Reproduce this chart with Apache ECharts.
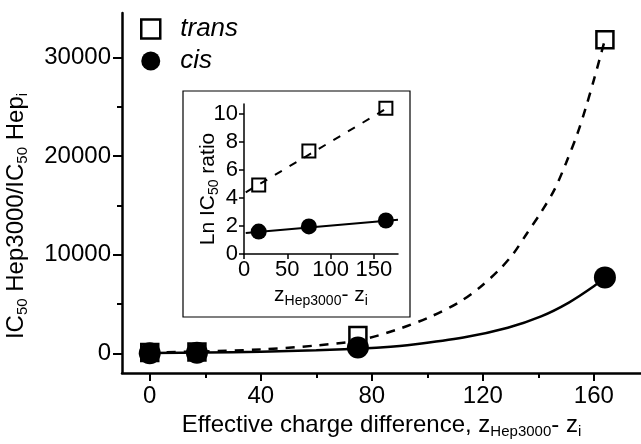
<!DOCTYPE html>
<html>
<head>
<meta charset="utf-8">
<script src="https://cdn.jsdelivr.net/npm/echarts@6/dist/echarts.min.js"></script>
<style>
html, body { margin: 0; padding: 0; background: #fff; }
#chart { width: 641px; height: 444px; }
</style>
</head>
<body>
<div id="chart"></div>
<script>
// main panel: IC50 ratio vs effective charge difference
var xPoints = [0, 17, 75, 164];
var transRatio = [100, 130, 1800, 31800];
var cisRatio = [20, 60, 600, 7700];

// fitted curves
var transFitX = [0, 20, 40, 60, 75, 89, 101, 111, 119, 126, 131, 136, 141, 146, 150, 154, 157, 160, 164];
var transFitY = [100, 200, 400, 800, 1300, 2400, 3700, 5100, 6700, 8500, 10100, 12200, 14300, 16700, 19300, 22200, 24800, 27700, 31800];
var cisFitX = [0, 20, 40, 60, 75, 83, 95, 113, 129, 141, 151, 160, 164];
var cisFitY = [50, 90, 170, 310, 480, 600, 900, 1600, 2600, 3750, 5150, 6800, 7700];

// inset: Ln IC50 ratio
var insetX = [17, 75, 164];
var transLn = [4.93, 7.35, 10.4];
var cisLn = [1.6, 1.97, 2.39];
var transLineX = [2, 168];
var transLineY = [4.4, 10.5];
var cisLineX = [2, 178];
var cisLineY = [1.5, 2.45];

// tick labels
var mainXTicks = [0, 40, 80, 120, 160];
var mainXMinor = [20, 60, 100, 140];
var mainYTicks = [0, 10000, 20000, 30000];
var mainYMinor = [5000, 15000, 25000];
var insetXTicks = [0, 50, 100, 150];
var insetYTicks = [0, 2, 4, 6, 8, 10];

function pairs(xs, ys) {
  return xs.map(function (x, i) { return [x, ys[i]] })
}
function plain(v) {
  return String(v)
}

var FONT = 'Liberation Sans'
var chart = echarts.init(document.getElementById('chart'))

var subRich = {
  m: { fontSize: 24, fontFamily: FONT, color: '#000' },
  s: { fontSize: 15, fontFamily: FONT, color: '#000', padding: [13, 0, 0, 0] }
}
var subRichSmall = {
  m: { fontSize: 21, fontFamily: FONT, color: '#000' },
  s: { fontSize: 14, fontFamily: FONT, color: '#000', padding: [12, 0, 0, 0] }
}

function mainX(customTicks, len, showLabel, name) {
  return {
    type: 'value', gridIndex: 0, position: 'bottom', min: -10, max: 177,
    name: name || '', nameLocation: 'middle', nameGap: 36,
    nameTextStyle: { rich: subRich },
    axisLine: { show: showLabel, onZero: false, lineStyle: { color: '#000', width: 2.5 } },
    axisTick: { show: true, length: len, customValues: customTicks, lineStyle: { color: '#000', width: 2 } },
    axisLabel: { show: showLabel, customValues: customTicks, formatter: plain, fontSize: 24, fontFamily: FONT, color: '#000', margin: 11 },
    splitLine: { show: false }
  }
}
function mainY(customTicks, len, showLabel) {
  return {
    type: 'value', gridIndex: 0, position: 'left', min: -2000, max: 34500,
    axisLine: { show: showLabel, onZero: false, lineStyle: { color: '#000', width: 2.5 } },
    axisTick: { show: true, length: len, customValues: customTicks, lineStyle: { color: '#000', width: 2 } },
    axisLabel: { show: showLabel, customValues: customTicks, formatter: plain, fontSize: 24, fontFamily: FONT, color: '#000', margin: 11 },
    splitLine: { show: false }
  }
}

chart.setOption({
  backgroundColor: '#fff',
  animation: false,
  textStyle: { fontFamily: FONT, color: '#000' },
  grid: [
    { left: 122, right: 0, top: 13, bottom: 70 },
    { left: 244, top: 104, width: 154, height: 150 }
  ],
  legend: {
    orient: 'vertical', left: 135, top: 11,
    itemWidth: 19, itemHeight: 19, itemGap: 6,
    textStyle: { fontSize: 26, fontStyle: 'italic', fontFamily: FONT, color: '#000', padding: [0, 0, 0, 15] },
    data: [
      { name: 'trans', icon: 'rect', itemStyle: { color: '#fff', borderColor: '#000', borderWidth: 2.5 } },
      { name: 'cis', icon: 'circle', itemStyle: { color: '#000', borderWidth: 0 } }
    ]
  },
  xAxis: [
    mainX(mainXTicks, 8, true, '{m|Effective charge difference, z}{s|Hep3000}{m|- z}{s|i}'),
    mainX(mainXMinor, 5, false),
    {
      type: 'value', gridIndex: 1, position: 'bottom', min: 0, max: 178,
      name: '{m|z}{s|Hep3000}{m|- z}{s|i}', nameLocation: 'middle', nameGap: 28,
      nameTextStyle: { rich: subRichSmall },
      axisLine: { onZero: false, lineStyle: { color: '#000', width: 1.5 } },
      axisTick: { length: 5, customValues: insetXTicks, lineStyle: { color: '#000', width: 1.5 } },
      axisLabel: { customValues: insetXTicks, formatter: plain, fontSize: 22, fontFamily: FONT, color: '#000', margin: 5 },
      splitLine: { show: false }
    }
  ],
  yAxis: [
    mainY(mainYTicks, 9, true),
    mainY(mainYMinor, 5, false),
    {
      type: 'value', gridIndex: 1, position: 'left', min: 0, max: 10.7,
      axisLine: { onZero: false, lineStyle: { color: '#000', width: 1.5 } },
      axisTick: { length: 5, customValues: insetYTicks, lineStyle: { color: '#000', width: 1.5 } },
      axisLabel: { customValues: insetYTicks, formatter: plain, fontSize: 22, fontFamily: FONT, color: '#000', margin: 6 },
      splitLine: { show: false }
    }
  ],
  graphic: [
    {
      type: 'rect', z: -10, silent: true,
      shape: { x: 183, y: 91, width: 227, height: 226 },
      style: { fill: '#fff', stroke: '#000', lineWidth: 1.2 }
    },
    {
      type: 'text', x: 16, y: 216, rotation: Math.PI / 2, silent: true,
      style: {
        text: '{m|IC}{s|50}{m| Hep3000/IC}{s|50}{m| Hep}{s|i}',
        rich: subRich, align: 'center', verticalAlign: 'middle'
      }
    },
    {
      type: 'text', x: 208, y: 189, rotation: Math.PI / 2, silent: true,
      style: {
        text: '{m|Ln IC}{s|50}{m| ratio}',
        rich: subRichSmall, align: 'center', verticalAlign: 'middle'
      }
    }
  ],
  series: [
    {
      name: 'trans fit', type: 'line', xAxisIndex: 0, yAxisIndex: 0, smooth: 0.3,
      symbol: 'none', data: pairs(transFitX, transFitY),
      lineStyle: { color: '#000', width: 2.5, type: [9, 8] }
    },
    {
      name: 'cis fit', type: 'line', xAxisIndex: 0, yAxisIndex: 0, smooth: 0.3,
      symbol: 'none', data: pairs(cisFitX, cisFitY),
      lineStyle: { color: '#000', width: 2.5 }
    },
    {
      name: 'trans', type: 'scatter', xAxisIndex: 0, yAxisIndex: 0,
      symbol: 'rect', symbolSize: 17, data: pairs(xPoints, transRatio),
      itemStyle: { color: '#fff', borderColor: '#000', borderWidth: 2.5, opacity: 1 }
    },
    {
      name: 'cis', type: 'scatter', xAxisIndex: 0, yAxisIndex: 0,
      symbol: 'circle', symbolSize: 22, data: pairs(xPoints, cisRatio),
      itemStyle: { color: '#000', opacity: 1 }
    },
    {
      name: 'trans ln fit', type: 'line', xAxisIndex: 2, yAxisIndex: 2,
      symbol: 'none', data: pairs(transLineX, transLineY),
      lineStyle: { color: '#000', width: 2, type: [8, 9] }
    },
    {
      name: 'cis ln fit', type: 'line', xAxisIndex: 2, yAxisIndex: 2,
      symbol: 'none', data: pairs(cisLineX, cisLineY),
      lineStyle: { color: '#000', width: 2 }
    },
    {
      name: 'trans ln', type: 'scatter', xAxisIndex: 2, yAxisIndex: 2,
      symbol: 'rect', symbolSize: 13, data: pairs(insetX, transLn),
      itemStyle: { color: '#fff', borderColor: '#000', borderWidth: 2, opacity: 1 }
    },
    {
      name: 'cis ln', type: 'scatter', xAxisIndex: 2, yAxisIndex: 2,
      symbol: 'circle', symbolSize: 16, data: pairs(insetX, cisLn),
      itemStyle: { color: '#000', opacity: 1 }
    }
  ]
})

window.addEventListener('resize', function () {
  chart.resize()
})
</script>
</body>
</html>
